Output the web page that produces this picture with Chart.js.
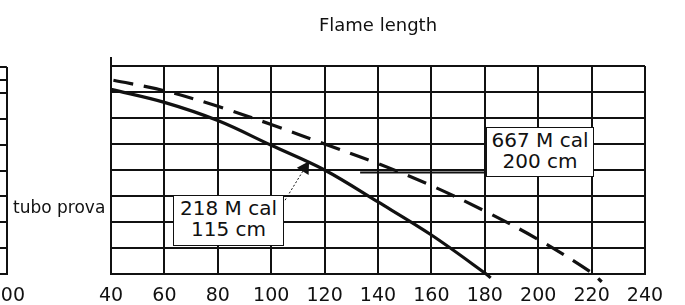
<!DOCTYPE html>
<html>
<head>
<meta charset="utf-8">
<script src="https://cdn.jsdelivr.net/npm/chart.js@4/dist/chart.umd.min.js"></script>
<style>
  body { margin: 0; background: #fff; }
  #wrap { position: relative; width: 685px; height: 305px; overflow: hidden; background: #fff; }
  #main { position: absolute; left: 0; top: 0; }
  #leftBox { position: absolute; top: 0; left: -300px; width: 300px; height: 305px; }
  .note {
    position: absolute; box-sizing: border-box; background: #fff;
    border: 1.5px solid #111; color: #111; text-align: center;
    font: 20px "DejaVu Sans", sans-serif; line-height: 21px; padding-top: 2px;
  }
  #side { position: absolute; left: 13px; top: 197px; font: 17px "DejaVu Sans", sans-serif; line-height: 20px; color: #111; }
</style>
</head>
<body>
<div id="wrap">
  <div id="leftBox"><canvas id="left" width="300" height="305"></canvas></div>
  <canvas id="main" width="685" height="305"></canvas>
  <div id="side">tubo prova</div>
  <div class="note" style="left:173px; top:195px; width:111px; height:51px;">218 M cal<br>115 cm</div>
  <div class="note" style="left:486px; top:127px; width:108px; height:50px;">667 M cal<br>200 cm</div>
</div>
<script>
// flame length curves (x = cm, y = grid rows)
const solidX = [40, 60, 80, 100, 120, 140, 160, 180, 182.2];
const solidY = [7.1, 6.6, 5.9, 4.95, 4.0, 2.77, 1.5, 0.04, -0.15];
const dashX = [40.9, 60, 80, 100, 120, 140, 160, 180, 200, 220, 223.8];
const dashY = [7.45, 7.05, 6.45, 5.75, 5.0, 4.25, 3.4, 2.42, 1.33, 0.05, -0.3];

// leader lines of the two notes
const leader1X = [105.2, 112.6];
const leader1Y = [2.84, 4.08];
const leader2X = [133.3, 180.4];
const leader2Y = [3.9, 3.9];

const xTicks = [40, 60, 80, 100, 120, 140, 160, 180, 200, 220, 240];
const yTicks = [0, 1, 2, 3, 4, 5, 6, 7, 8];
const leftXTicks = [0, 50, 100, 150, 200];
const leftYTicks = [0, 1, 2, 3, 4, 5, 6, 7, 7.5, 8];

const ink = '#111';
Chart.defaults.font.family = '"DejaVu Sans", sans-serif';
Chart.defaults.color = ink;

const pts = (xs, ys) => xs.map((x, i) => ({ x: x, y: ys[i] }));

const axisStub = {
    id: 'axisStub',
    afterDraw(chart) {
        const { ctx, chartArea } = chart;
        ctx.save();
        ctx.strokeStyle = ink;
        ctx.lineWidth = 2;
        ctx.beginPath();
        ctx.moveTo(chartArea.left, chartArea.top - 9);
        ctx.lineTo(chartArea.left, chartArea.top);
        ctx.stroke();
        ctx.restore();
    }
};

new Chart(document.getElementById('main'), {
    type: 'line',
    data: {
        datasets: [
            { data: pts(solidX, solidY), borderColor: ink, borderWidth: 3.2, pointRadius: 0, tension: 0.35, clip: false },
            { data: pts(dashX, dashY), borderColor: ink, borderWidth: 3.2, borderDash: [20, 11], pointRadius: 0, tension: 0.35, clip: false },
            { data: pts(leader1X, leader1Y), borderColor: ink, borderWidth: 1, borderDash: [2, 2],
              pointRadius: [0, 8], pointStyle: 'triangle', rotation: 32, pointBackgroundColor: ink, pointBorderWidth: 0 },
            { data: pts(leader2X, leader2Y), borderColor: ink, borderWidth: 2, pointRadius: 0 }
        ]
    },
    options: {
        responsive: false,
        animation: false,
        layout: { padding: { left: 111, right: 40, top: 0, bottom: 0 } },
        plugins: {
            legend: { display: false },
            tooltip: { enabled: false },
            title: {
                display: true, text: 'Flame length', color: ink,
                font: { size: 18, weight: 'normal' },
                padding: { top: 16, bottom: 28.4 }
            }
        },
        scales: {
            x: {
                type: 'linear', min: 40, max: 240,
                afterBuildTicks: s => { s.ticks = xTicks.map(v => ({ value: v })); },
                afterFit: s => { s.height = 31; },
                grid: { color: ink, lineWidth: 2, drawTicks: false },
                border: { color: ink, width: 2 },
                ticks: { font: { size: 19 }, padding: 11, color: ink }
            },
            y: {
                min: 0, max: 8,
                afterBuildTicks: s => { s.ticks = yTicks.map(v => ({ value: v })); },
                afterFit: s => { s.width = 0; },
                grid: { color: ink, lineWidth: 2, drawTicks: false },
                border: { color: ink, width: 2 },
                ticks: { display: false }
            }
        }
    },
    plugins: [axisStub]
});

// the neighbouring panel, only its right edge is in view
const leftChart = new Chart(document.getElementById('left'), {
    type: 'line',
    data: { datasets: [] },
    options: {
        responsive: false,
        animation: false,
        layout: { padding: { left: 10, right: 0, top: 67, bottom: 0 } },
        plugins: { legend: { display: false }, tooltip: { enabled: false } },
        scales: {
            x: {
                type: 'linear', min: 0, max: 200,
                afterBuildTicks: s => { s.ticks = leftXTicks.map(v => ({ value: v })); },
                afterFit: s => { s.height = 31; },
                grid: { color: ink, lineWidth: 2, drawTicks: false },
                border: { color: ink, width: 2 },
                ticks: { font: { size: 19 }, padding: 11, color: ink }
            },
            y: {
                min: 0, max: 8,
                afterBuildTicks: s => { s.ticks = leftYTicks.map(v => ({ value: v })); },
                afterFit: s => { s.width = 0; },
                grid: { color: ink, lineWidth: 2, drawTicks: false },
                border: { color: ink, width: 2 },
                ticks: { display: false }
            }
        }
    }
});
document.getElementById('leftBox').style.left = (7 - leftChart.chartArea.right) + 'px';
</script>
</body>
</html>
